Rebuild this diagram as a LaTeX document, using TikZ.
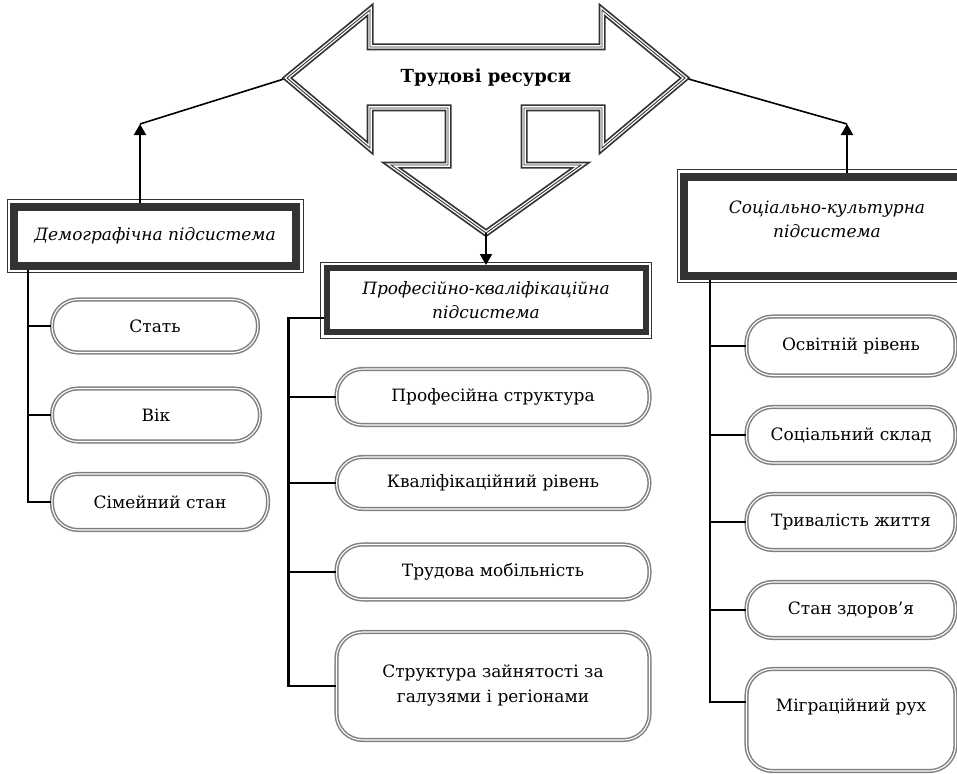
\documentclass[tikz,border=0pt]{standalone}
\usepackage{fontspec}
\setmainfont{DejaVu Serif}
\usetikzlibrary{arrows.meta}

\tikzset{
  sysbox/.style={draw=black!80, line width=6pt, fill=white, align=center,
    font=\fontsize{17}{24}\selectfont\itshape},
  item/.style={draw=black!50, line width=1.5pt, double=white, double distance=1.1pt,
    rounded corners=26pt, fill=white, align=center, font=\fontsize{17}{25}\selectfont},
  bus/.style={line width=2.4pt},
  link/.style={line width=1.6pt},
  arr/.style={line width=2pt, -{Triangle[width=12pt,length=11pt]}},
}

\begin{document}
\begin{tikzpicture}[x=1pt, y=-1pt]
  \useasboundingbox (0,0) rectangle (957,773);
  \clip (0,0) rectangle (957,773);

  % tips of the big arrow
  \coordinate (ltip) at (287,78);
  \coordinate (rtip) at (685,78);
  \coordinate (dtip) at (486,233);
  \coordinate (lknee) at (140,124);
  \coordinate (rknee) at (847,124);

  \draw[link] (ltip) -- (lknee);
  \draw[link] (rtip) -- (rknee);

  % big three-way arrow
  \foreach \w/\c in {7pt/black!80, 3.5pt/white, 0.9pt/black!80}{
    \draw[line width=\w, color=\c] (ltip) -- (370,10) -- (370,47) -- (602,47) -- (602,10)
      -- (rtip) -- (602,148) -- (602,108) -- (524,108) -- (524,165) -- (581,165)
      -- (dtip) -- (391,165) -- (448,165) -- (448,108) -- (370,108) -- (370,148) -- cycle;
  }
  \node[font=\fontsize{18}{24}\selectfont\bfseries] (res) at (486,78) {Трудові ресурси};

  % subsystems
  \node[sysbox, line width=8pt, minimum width=282pt, minimum height=59pt] (demo) at (155,236)
    {Демографічна підсистема};
  \node[sysbox, minimum width=319pt, minimum height=64pt] (prof) at (486,300)
    {Професійно-кваліфікаційна\\підсистема};
  \node[sysbox, line width=8pt, minimum width=286pt, minimum height=99pt, text depth=14pt] (soc) at (827,226)
    {Соціально-культурна\\підсистема};
  \foreach \b in {demo, prof, soc}{
    \draw[line width=1pt, black!80] ([shift={(-3pt,3pt)}]\b.north west)
      rectangle ([shift={(3pt,-3pt)}]\b.south east);
  }

  \draw[arr] (demo.north -| lknee) -- (lknee);
  \draw[arr] (soc.north -| rknee) -- (rknee);
  \draw[arr] (dtip) -- (dtip |- prof.north);

  % demographic items
  \node[item, minimum width=206pt, minimum height=53pt] (stat) at (155,326) {Стать};
  \node[item, minimum width=208pt, minimum height=53pt] (vik) at (156,415) {Вік};
  \node[item, minimum width=216pt, minimum height=56pt] (sim) at (160,502) {Сімейний стан};

  % professional items
  \node[item, minimum width=313pt, minimum height=56pt] (pstr) at (493,397) {Професійна структура};
  \node[item, minimum width=313pt, minimum height=52pt] (kval) at (493,483) {Кваліфікаційний рівень};
  \node[item, minimum width=313pt, minimum height=55pt] (mob) at (493,572) {Трудова мобільність};
  \node[item, minimum width=313pt, minimum height=108pt] (zain) at (493,686)
    {Структура зайнятості за\\галузями і регіонами};

  % socio-cultural items
  \node[item, minimum width=209pt, minimum height=59pt] (osv) at (851,346) {Освітній рівень};
  \node[item, minimum width=209pt, minimum height=56pt] (skl) at (851,435) {Соціальний склад};
  \node[item, minimum width=209pt, minimum height=56pt] (tryv) at (851,522) {Тривалість життя};
  \node[item, minimum width=209pt, minimum height=56pt] (zdor) at (851,610) {Стан здоров’я};
  \node[item, minimum width=209pt, minimum height=102pt, text depth=30pt] (mig) at (851,720)
    {Міграційний рух};

  % buses
  \coordinate (dbus) at ([xshift=18pt]demo.south west);
  \draw[bus] (dbus) |- (sim.west);
  \foreach \n in {stat, vik} \draw[bus] (dbus |- \n.west) -- (\n.west);

  \coordinate (pbus) at ([xshift=-35pt,yshift=-18pt]prof.west);
  \draw[bus] ([yshift=-18pt]prof.west) -- (pbus) |- (zain.west);
  \foreach \n in {pstr, kval, mob} \draw[bus] (pbus |- \n.west) -- (\n.west);

  \coordinate (sbus) at ([xshift=30pt]soc.south west);
  \draw[bus] (sbus) |- ([yshift=18pt]mig.west);
  \foreach \n in {osv, skl, tryv, zdor} \draw[bus] (sbus |- \n.west) -- (\n.west);
\end{tikzpicture}
\end{document}
